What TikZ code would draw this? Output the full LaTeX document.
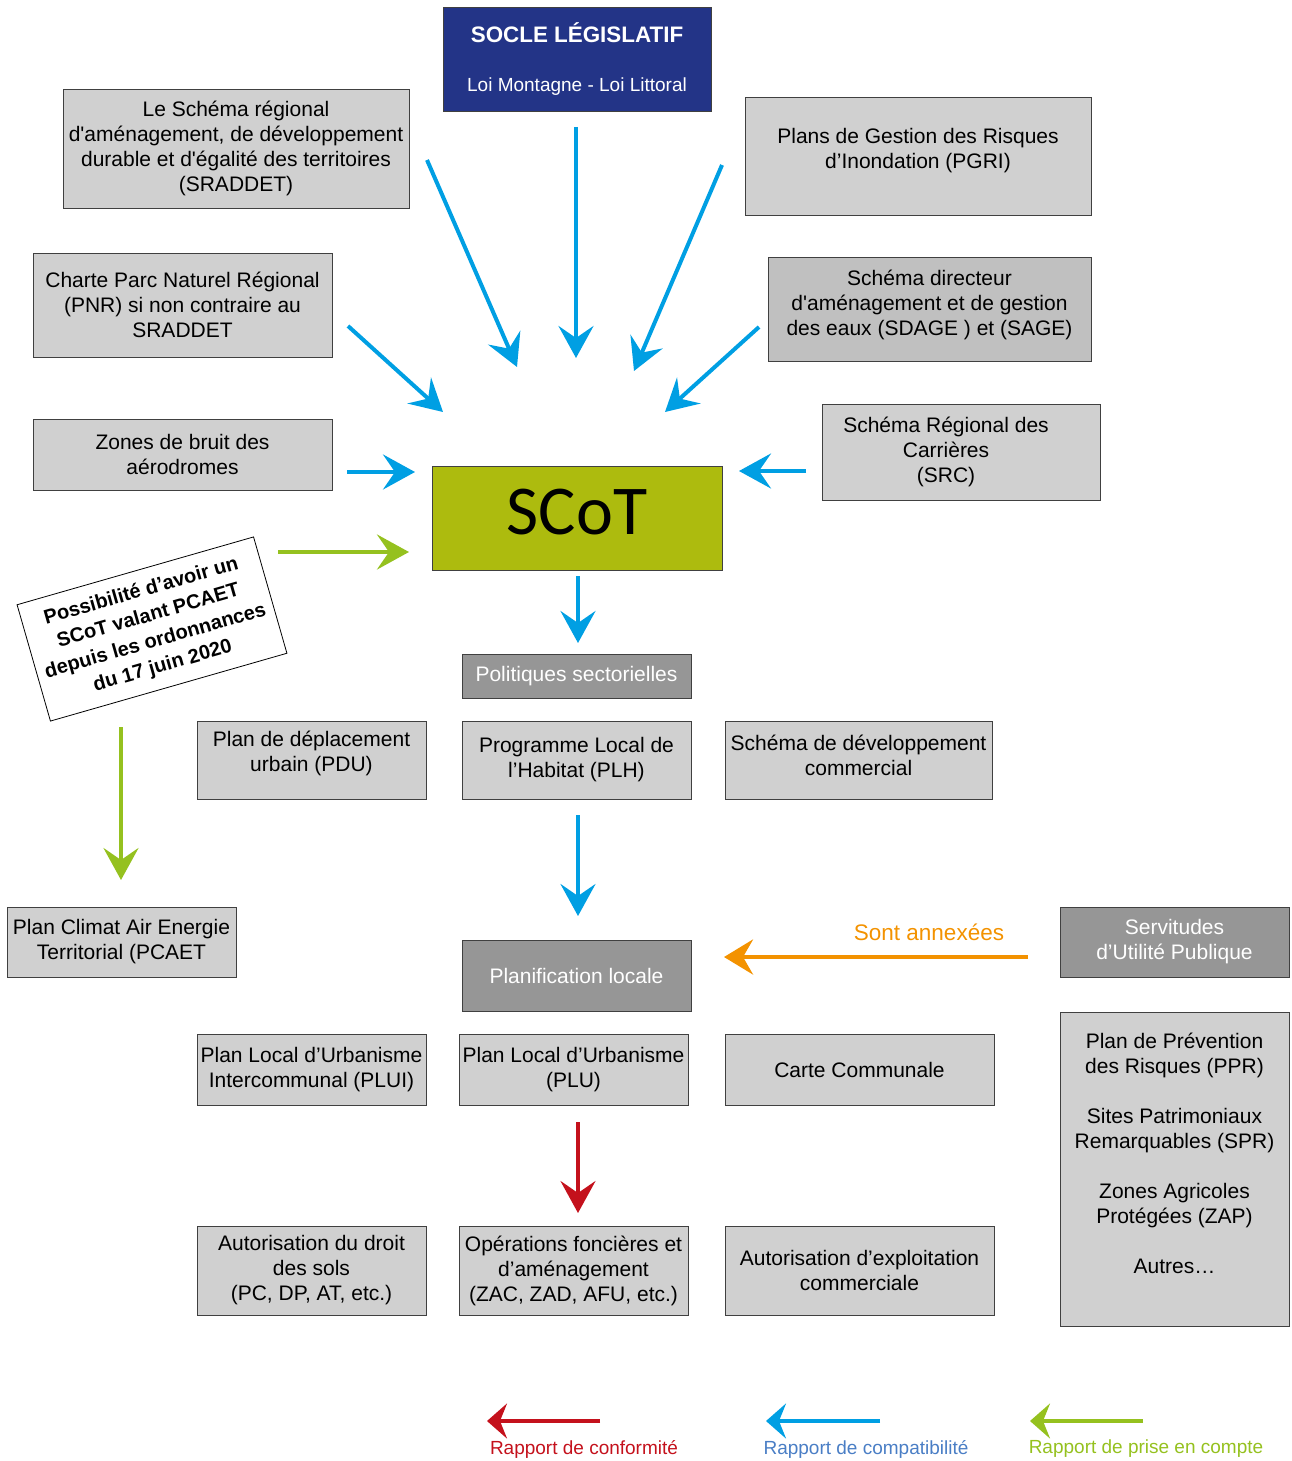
\documentclass[tikz,border=0pt]{standalone}
\usepackage{fontspec}
\setmainfont{Liberation Sans}
\newfontfamily\scotfont{Carlito}
\usetikzlibrary{arrows.meta}
\definecolor{soclebleu}{RGB}{35,52,135}
\definecolor{boxlight}{RGB}{208,208,208}
\definecolor{boxmid}{RGB}{192,192,192}
\definecolor{boxdark}{RGB}{150,150,150}
\definecolor{scotgreen}{RGB}{173,187,14}
\definecolor{arrblue}{RGB}{0,159,227}
\definecolor{arrgreen}{RGB}{149,193,31}
\definecolor{arrred}{RGB}{196,17,28}
\definecolor{arrorange}{RGB}{243,146,0}
\definecolor{legblue}{RGB}{74,126,197}
\newcommand\apos{\textquotesingle}

\begin{document}
\begin{tikzpicture}[x=1pt,y=-1pt,
  box/.style={draw=black!75, line width=0.8pt, fill=boxlight, align=center, inner sep=0pt, font=\fontsize{21}{25}\selectfont},
  darkbox/.style={box, fill=boxdark, text=white},
  arr/.style={line width=4pt, -{Stealth[length=32pt,width=35pt,inset=12pt]}},
  legarr/.style={line width=4pt, -{Stealth[length=20pt,width=35pt,inset=7pt]}},
  legtext/.style={font=\fontsize{19}{23}\selectfont}]
  \useasboundingbox (0,0) rectangle (1291,1461);

  % top
  \node[box, fill=soclebleu, text=white, minimum width=268, minimum height=104, font=\fontsize{19}{25}\selectfont] (socle) at (577,59)
    {{\fontsize{22.4}{25}\selectfont\bfseries SOCLE LÉGISLATIF}\\[24pt]Loi Montagne - Loi Littoral};
  \node[box, minimum width=346, minimum height=119] (sraddet) at (236,148.5)
    {Le Schéma régional\\d\apos aménagement, de développement\\durable et d\apos égalité des territoires\\(SRADDET)};
  \node[box, minimum width=346, minimum height=118, text depth=16pt] (pgri) at (918,156)
    {Plans de Gestion des Risques\\d’Inondation (PGRI)};
  \node[box, minimum width=299, minimum height=104] (pnr) at (182.5,305)
    {Charte Parc Naturel Régional\\(PNR) si non contraire au\\SRADDET};
  \node[box, fill=boxmid, minimum width=323, minimum height=104, text depth=12pt] (sdage) at (929.5,309)
    {Schéma directeur\\d\apos aménagement et de gestion\\des eaux (SDAGE ) et (SAGE)};
  \node[box, minimum width=299, minimum height=71] (bruit) at (182.5,454.5)
    {Zones de bruit des\\aérodromes};
  \node[box, minimum width=278, minimum height=96] (src) at (961,452)
    {\begin{tabular}{@{}c@{}}Schéma Régional des\\Carrières\\(SRC)\end{tabular}\hspace*{30pt}};
  \node[box, fill=scotgreen, minimum width=290, minimum height=104, text depth=12pt,
    font=\scotfont\fontsize{70}{70}\selectfont] (scot) at (577,518) {SCoT};

  % note PCAET
  \node[draw=black, line width=0.8pt, fill=white, rotate=16, minimum width=246, minimum height=121, align=center,
    inner sep=0pt, font=\bfseries\fontsize{20}{26}\selectfont] (note) at (152,629)
    {Possibilité d’avoir un\\SCoT valant PCAET\\depuis les ordonnances\\du 17 juin 2020};

  % politiques sectorielles
  \node[darkbox, minimum width=229, minimum height=44] (polit) at (576.5,676) {Politiques sectorielles};
  \node[box, minimum width=229, minimum height=78, text depth=18pt] (pdu) at (311.5,760) {Plan de déplacement\\urbain (PDU)};
  \node[box, minimum width=229, minimum height=78] (plh) at (576.5,760) {Programme Local de\\l’Habitat (PLH)};
  \node[box, minimum width=267, minimum height=78, text depth=10pt] (sdc) at (858.5,760) {Schéma de développement\\commercial};
  \node[box, minimum width=229, minimum height=70] (pcaet) at (121.5,942) {Plan Climat Air Energie\\Territorial (PCAET};

  % planification locale
  \node[darkbox, minimum width=229, minimum height=71] (planif) at (576.5,975.5) {Planification locale};
  \node[darkbox, minimum width=229, minimum height=70] (sup) at (1174.5,942) {Servitudes\\d’Utilité Publique};
  \node[box, minimum width=229, minimum height=71] (plui) at (311.5,1069.5) {Plan Local d’Urbanisme\\Intercommunal (PLUI)};
  \node[box, minimum width=229, minimum height=71] (plu) at (573.5,1069.5) {Plan Local d’Urbanisme\\(PLU)};
  \node[box, minimum width=269, minimum height=71] (cc) at (859.5,1069.5) {Carte Communale};
  \node[box, minimum width=229, minimum height=314, text depth=31pt] (ppr) at (1174.5,1169)
    {Plan de Prévention\\des Risques (PPR)\\[25pt]Sites Patrimoniaux\\Remarquables (SPR)\\[25pt]Zones Agricoles\\Protégées (ZAP)\\[25pt]Autres…};
  \node[box, minimum width=229, minimum height=89] (ads) at (311.5,1270.5) {Autorisation du droit\\des sols\\(PC, DP, AT, etc.)};
  \node[box, minimum width=229, minimum height=89] (ofa) at (573.5,1270.5) {Opérations foncières et\\d’aménagement\\(ZAC, ZAD, AFU, etc.)};
  \node[box, minimum width=269, minimum height=89] (aec) at (859.5,1270.5) {Autorisation d’exploitation\\commerciale};

  % arrow ends
  \coordinate (sraddetout) at (427,160);  \coordinate (scotin1) at (517,367);
  \coordinate (socleout)   at (576,127);  \coordinate (scotin2) at (576,358);
  \coordinate (pgriout)    at (722,165);  \coordinate (scotin3) at (634,371);
  \coordinate (pnrout)     at (348,326);  \coordinate (scotin4) at (443,412);
  \coordinate (sdageout)   at (759,327);  \coordinate (scotin5) at (665,412);
  \coordinate (bruitout)   at (347,472);  \coordinate (scotin6) at (415,472);
  \coordinate (srcout)     at (806,471);  \coordinate (scotin7) at (739,471);
  \coordinate (scotout)    at (578,576);  \coordinate (politin) at (578,643);
  \coordinate (plhout)     at (578,815);  \coordinate (planifin) at (578,916);
  \coordinate (pluout)     at (578,1122); \coordinate (ofain) at (578,1213);
  \coordinate (noteout)    at (278,552);  \coordinate (scotin8) at (409,552);
  \coordinate (notedown)   at (121,727);  \coordinate (pcaetin) at (121,880);
  \coordinate (supout)     at (1028,957); \coordinate (planifside) at (724,957);

  \draw[arr, arrblue] (sraddetout) -- (scotin1);
  \draw[arr, arrblue] (socleout) -- (scotin2);
  \draw[arr, arrblue] (pgriout) -- (scotin3);
  \draw[arr, arrblue] (pnrout) -- (scotin4);
  \draw[arr, arrblue] (sdageout) -- (scotin5);
  \draw[arr, arrblue] (bruitout) -- (scotin6);
  \draw[arr, arrblue] (srcout) -- (scotin7);
  \draw[arr, arrblue] (scotout) -- (politin);
  \draw[arr, arrblue] (plhout) -- (planifin);
  \draw[arr, arrred] (pluout) -- (ofain);
  \draw[arr, arrgreen] (noteout) -- (scotin8);
  \draw[arr, arrgreen] (notedown) -- (pcaetin);
  \draw[arr, arrorange, -{Stealth[length=29pt,width=35pt,inset=10pt]}] (supout) -- (planifside);
  \node[text=arrorange, font=\fontsize{22.5}{25}\selectfont] (annex) at (929,932) {Sont annexées};

  % legend
  \coordinate (conf1) at (600,1421); \coordinate (conf2) at (487,1421);
  \coordinate (comp1) at (880,1421); \coordinate (comp2) at (766,1421);
  \coordinate (pris1) at (1143,1421); \coordinate (pris2) at (1030,1421);
  \draw[legarr, arrred] (conf1) -- (conf2);
  \draw[legarr, arrblue] (comp1) -- (comp2);
  \draw[legarr, arrgreen] (pris1) -- (pris2);
  \node[legtext, text=arrred] (legconf) at (584,1449) {Rapport de conformité};
  \node[legtext, text=legblue] (legcomp) at (866,1449) {Rapport de compatibilité};
  \node[legtext, text=arrgreen] (legpris) at (1146,1449) {Rapport de prise en compte};
\end{tikzpicture}
\end{document}
